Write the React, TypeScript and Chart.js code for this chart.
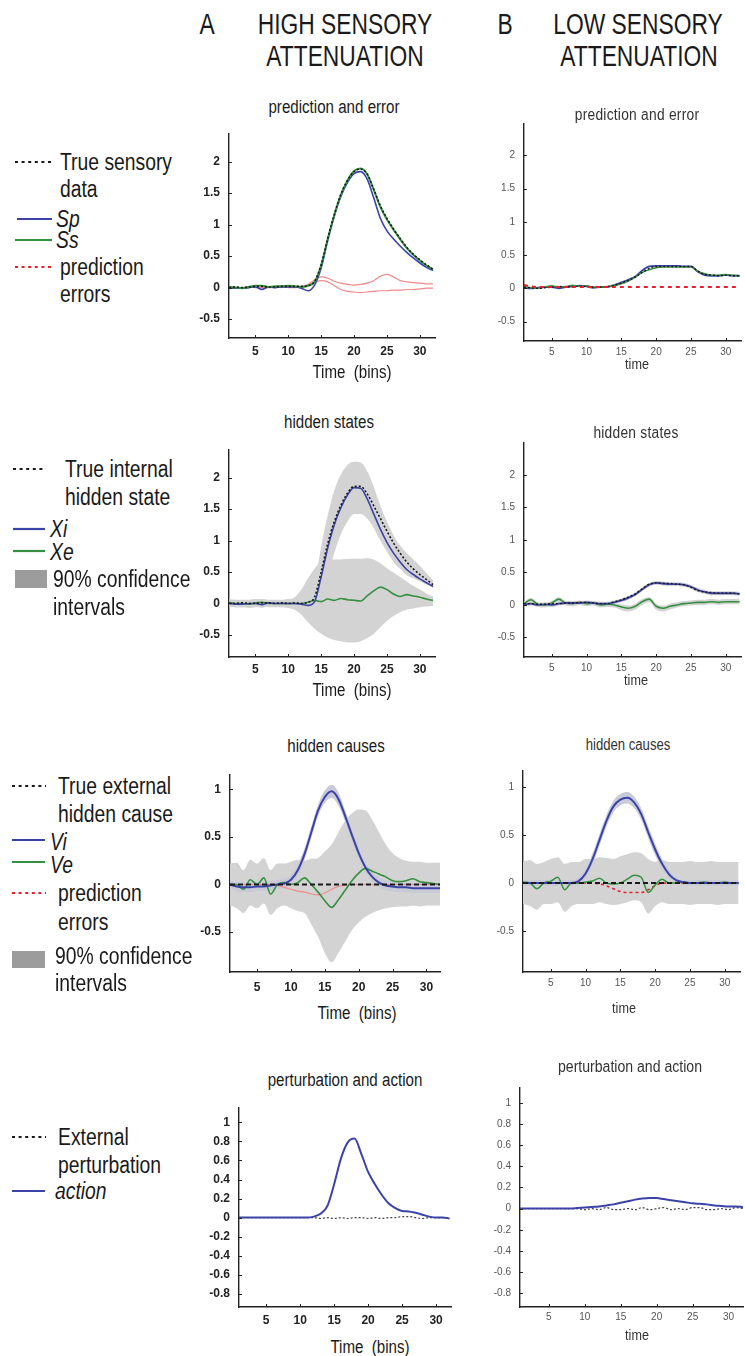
import React, { useEffect, useRef } from "react";
import { Chart, registerables } from "chart.js";
Chart.register(...registerables);

// ---------- categories / ticks ----------
const bins = [1,2,3,4,5,6,7,8,9,10,11,12,13,14,15,16,17,18,19,20,21,22,23,24,25,26,27,28,29,30,31,32];
const xTicks = [5, 10, 15, 20, 25, 30];
const yTicksPred = [-0.5, 0, 0.5, 1, 1.5, 2];
const yTicksCause = [-0.5, 0, 0.5, 1];
const yTicksAction = [-0.8, -0.6, -0.4, -0.2, 0, 0.2, 0.4, 0.6, 0.8, 1];

// ---------- A1 prediction and error (high attenuation) ----------
const trueSensA = [0.00,0.01,0.00,0.01,0.02,0.02,0.01,0.01,0.02,0.02,0.02,0.02,0.03,0.10,0.36,0.78,1.16,1.48,1.70,1.84,1.88,1.80,1.56,1.30,1.10,0.93,0.78,0.64,0.53,0.44,0.36,0.29];
const ssA = [0.01,0.00,-0.01,0.01,0.03,0.03,0.01,0.02,0.02,0.03,0.02,0.01,0.03,0.09,0.35,0.77,1.15,1.47,1.70,1.85,1.89,1.80,1.55,1.28,1.08,0.92,0.77,0.63,0.52,0.43,0.35,0.29];
const spA = [0.00,-0.01,-0.01,0.00,0.01,-0.03,0.01,0.00,0.01,0.01,0.01,-0.01,-0.05,0.04,0.31,0.75,1.14,1.45,1.67,1.81,1.84,1.72,1.42,1.10,0.90,0.77,0.66,0.56,0.47,0.39,0.32,0.27];
const errA1 = [0.00,0.00,0.00,0.01,0.00,0.00,0.00,0.01,0.00,0.01,0.01,0.02,0.05,0.12,0.17,0.15,0.10,0.07,0.05,0.04,0.05,0.07,0.11,0.18,0.21,0.17,0.11,0.09,0.08,0.07,0.06,0.06];
const errA2 = [0.00,-0.01,0.00,0.00,0.01,0.00,0.00,0.00,0.01,0.00,0.00,0.01,0.04,0.08,0.11,0.09,0.03,-0.03,-0.06,-0.07,-0.08,-0.07,-0.06,-0.05,-0.05,-0.04,-0.04,-0.03,-0.03,-0.02,-0.01,-0.01];

// ---------- B1 prediction and error (low attenuation) ----------
const trueSensB = [0.02,0.01,0.00,0.01,0.02,0.03,0.02,0.03,0.03,0.03,0.02,0.02,0.03,0.05,0.08,0.12,0.17,0.24,0.30,0.33,0.33,0.33,0.33,0.33,0.33,0.26,0.21,0.20,0.19,0.20,0.19,0.19];
const spB = [0.01,0.00,0.01,0.02,0.02,0.00,0.02,0.03,0.04,0.03,0.01,0.02,0.02,0.05,0.09,0.13,0.18,0.27,0.33,0.34,0.34,0.34,0.34,0.33,0.33,0.25,0.20,0.19,0.19,0.20,0.19,0.19];
const ssB = [0.03,0.01,0.00,0.02,0.04,0.02,0.03,0.05,0.03,0.04,0.02,0.02,0.03,0.04,0.07,0.11,0.17,0.24,0.28,0.31,0.32,0.32,0.32,0.32,0.32,0.26,0.22,0.20,0.20,0.21,0.20,0.19];
const errB1 = [0.05,0.03,0.02,0.02,0.02,0.02,0.02,0.02,0.02,0.02,0.02,0.02,0.02,0.02,0.02,0.02,0.02,0.02,0.02,0.02,0.02,0.02,0.02,0.02,0.02,0.02,0.02,0.02,0.02,0.02,0.02,0.02];

// ---------- A2 hidden states (high) ----------
const trueHidA = [0.00,0.00,0.01,0.00,0.00,0.01,0.01,0.00,0.01,0.00,0.01,0.00,0.02,0.10,0.50,0.95,1.30,1.56,1.75,1.86,1.86,1.74,1.55,1.35,1.15,0.96,0.80,0.66,0.55,0.46,0.38,0.30];
const xiA = [0.00,-0.01,-0.01,0.00,0.00,-0.02,0.01,0.00,0.00,0.00,0.00,-0.01,-0.03,0.03,0.42,0.88,1.25,1.52,1.72,1.84,1.83,1.66,1.42,1.18,0.97,0.80,0.66,0.54,0.46,0.39,0.33,0.27];
const xeA = [0.02,0.00,0.00,-0.01,0.01,0.02,0.00,0.00,0.00,0.00,0.00,0.00,0.02,0.05,0.03,0.07,0.05,0.08,0.06,0.05,0.04,0.12,0.20,0.26,0.22,0.15,0.11,0.14,0.12,0.10,0.07,0.05];
const xiHiA = [0.05,0.04,0.04,0.05,0.05,0.04,0.05,0.05,0.05,0.05,0.05,0.05,0.06,0.30,0.90,1.40,1.80,2.05,2.20,2.25,2.24,2.10,1.85,1.55,1.30,1.08,0.92,0.80,0.70,0.60,0.48,0.37];
const xiLoA = [-0.05,-0.06,-0.06,-0.05,-0.05,-0.07,-0.04,-0.05,-0.05,-0.05,-0.05,-0.06,-0.08,-0.02,0.15,0.45,0.80,1.10,1.30,1.42,1.42,1.35,1.20,1.00,0.82,0.66,0.55,0.45,0.40,0.35,0.30,0.25];
const xeHiA = [0.07,0.06,0.06,0.06,0.07,0.07,0.06,0.06,0.06,0.07,0.10,0.22,0.40,0.55,0.67,0.70,0.70,0.70,0.71,0.71,0.71,0.72,0.70,0.64,0.56,0.49,0.42,0.35,0.28,0.22,0.16,0.11];
const xeLoA = [-0.05,-0.06,-0.06,-0.07,-0.06,-0.05,-0.06,-0.06,-0.06,-0.07,-0.10,-0.18,-0.30,-0.40,-0.48,-0.54,-0.58,-0.60,-0.62,-0.62,-0.60,-0.55,-0.48,-0.38,-0.28,-0.20,-0.14,-0.10,-0.08,-0.06,-0.05,-0.04];

// ---------- B2 hidden states (low) ----------
const trueHidB = [0.02,0.02,0.01,0.01,0.02,0.02,0.03,0.03,0.04,0.04,0.03,0.02,0.02,0.05,0.08,0.12,0.17,0.25,0.32,0.34,0.33,0.33,0.32,0.31,0.27,0.22,0.20,0.19,0.18,0.18,0.18,0.17];
const xiB = [0.01,0.02,0.00,0.01,0.00,0.02,0.03,0.03,0.03,0.04,0.03,0.02,0.02,0.04,0.07,0.11,0.16,0.24,0.31,0.34,0.33,0.32,0.32,0.31,0.28,0.23,0.20,0.18,0.18,0.18,0.18,0.17];
const xeB = [0.02,0.08,0.01,0.00,0.03,0.09,0.03,0.02,0.04,0.02,0.03,0.00,0.01,0.00,-0.03,-0.05,-0.02,0.05,0.09,-0.02,-0.05,-0.02,0.00,0.02,0.03,0.04,0.04,0.05,0.04,0.05,0.05,0.05];
const xiHiB = [0.04,0.05,0.03,0.04,0.03,0.05,0.06,0.06,0.06,0.07,0.06,0.05,0.05,0.07,0.10,0.14,0.19,0.27,0.34,0.37,0.36,0.35,0.35,0.34,0.31,0.26,0.23,0.21,0.21,0.21,0.21,0.20];
const xiLoB = [-0.02,-0.01,-0.03,-0.02,-0.03,-0.01,0.00,0.00,0.00,0.01,0.00,-0.01,-0.01,0.01,0.04,0.08,0.13,0.21,0.28,0.31,0.30,0.29,0.29,0.28,0.25,0.20,0.17,0.15,0.15,0.15,0.15,0.14];
const xeHiB = [0.05,0.11,0.04,0.03,0.06,0.12,0.06,0.05,0.07,0.05,0.06,0.03,0.04,0.03,0.01,-0.01,0.02,0.09,0.12,0.02,-0.01,0.02,0.04,0.06,0.07,0.08,0.08,0.09,0.08,0.09,0.09,0.09];
const xeLoB = [-0.02,0.04,-0.03,-0.04,-0.01,0.05,-0.01,-0.02,0.00,-0.02,-0.01,-0.04,-0.03,-0.04,-0.08,-0.10,-0.07,0.00,0.04,-0.07,-0.10,-0.07,-0.04,-0.02,-0.01,0.00,0.00,0.01,0.00,0.01,0.01,0.01];

// ---------- A3 hidden causes (high) ----------
const trueCauseA = [0,0,0,0,0,0,0,0,0,0,0,0,0,0,0,0,0,0,0,0,0,0,0,0,0,0,0,0,0,0,0,0];
const viA = [0.00,-0.02,-0.03,-0.03,-0.02,-0.02,-0.01,0.00,0.01,0.05,0.15,0.32,0.55,0.78,0.92,0.98,0.90,0.72,0.52,0.33,0.18,0.08,0.02,-0.01,-0.02,-0.03,-0.03,-0.04,-0.04,-0.04,-0.04,-0.04];
const veA = [0.00,0.00,-0.05,0.05,0.00,0.07,-0.10,0.00,0.02,0.00,0.02,0.07,0.00,-0.08,-0.17,-0.24,-0.16,-0.06,0.04,0.12,0.17,0.14,0.11,0.08,0.04,0.03,0.04,0.06,0.03,0.02,0.01,0.00];
const errCauseA = [0.00,0.00,0.00,0.00,0.00,0.00,0.00,-0.01,-0.03,-0.05,-0.07,-0.08,-0.10,-0.11,-0.09,-0.05,-0.02,-0.01,0.00,0.00,0.00,0.00,0.00,0.00,0.00,0.00,0.00,0.00,0.00,0.00,0.00,0.00];
const viHiA = [0.04,0.03,0.02,0.02,0.03,0.03,0.04,0.05,0.06,0.10,0.21,0.38,0.61,0.84,0.99,1.05,0.97,0.78,0.58,0.39,0.23,0.13,0.07,0.04,0.03,0.02,0.02,0.01,0.01,0.01,0.01,0.01];
const viLoA = [-0.04,-0.07,-0.08,-0.08,-0.07,-0.07,-0.06,-0.05,-0.04,0.00,0.09,0.26,0.49,0.72,0.86,0.91,0.83,0.66,0.46,0.27,0.13,0.03,-0.03,-0.06,-0.07,-0.08,-0.08,-0.09,-0.09,-0.09,-0.09,-0.09];
const veHiA = [0.22,0.23,0.15,0.26,0.22,0.28,0.15,0.22,0.22,0.24,0.26,0.25,0.27,0.28,0.35,0.42,0.55,0.67,0.75,0.79,0.78,0.68,0.55,0.42,0.33,0.28,0.25,0.24,0.24,0.23,0.23,0.23];
const veLoA = [-0.22,-0.25,-0.30,-0.22,-0.25,-0.20,-0.32,-0.25,-0.22,-0.25,-0.28,-0.30,-0.42,-0.55,-0.72,-0.82,-0.72,-0.60,-0.48,-0.40,-0.34,-0.30,-0.27,-0.25,-0.24,-0.23,-0.23,-0.22,-0.23,-0.22,-0.22,-0.22];

// ---------- B3 hidden causes (low) ----------
const trueCauseB = [0,0,0,0,0,0,0,0,0,0,0,0,0,0,0,0,0,0,0,0,0,0,0,0,0,0,0,0,0,0,0,0];
const viB = [0.00,0.00,0.00,0.00,0.00,0.00,0.00,0.00,0.02,0.10,0.25,0.45,0.65,0.80,0.87,0.89,0.84,0.72,0.53,0.35,0.20,0.09,0.03,0.01,0.00,0.00,0.00,0.00,0.00,0.00,0.00,0.00];
const veB = [0.01,0.00,-0.06,0.00,0.02,0.06,-0.07,0.00,0.00,0.01,0.02,0.05,0.00,-0.01,0.00,0.04,0.08,0.06,-0.10,-0.02,0.04,0.00,0.00,0.01,0.00,0.00,0.01,0.00,0.00,0.01,0.00,0.00];
const errCauseB = [0,0,0,0,0,0,0,0,0,0,0,-0.01,-0.03,-0.06,-0.09,-0.10,-0.10,-0.10,-0.07,-0.03,0.00,0,0,0,0,0,0,0,0,0,0,0];
const viHiB = [0.03,0.03,0.03,0.03,0.03,0.03,0.03,0.03,0.06,0.15,0.31,0.51,0.71,0.86,0.93,0.95,0.90,0.78,0.59,0.41,0.25,0.13,0.06,0.03,0.03,0.03,0.03,0.03,0.03,0.03,0.03,0.03];
const viLoB = [-0.03,-0.03,-0.03,-0.03,-0.03,-0.03,-0.03,-0.03,-0.02,0.05,0.19,0.39,0.59,0.74,0.81,0.83,0.78,0.66,0.47,0.29,0.15,0.05,0.00,-0.02,-0.03,-0.03,-0.03,-0.03,-0.03,-0.03,-0.03,-0.03];
const veHiB = [0.22,0.24,0.20,0.22,0.25,0.27,0.20,0.22,0.22,0.25,0.25,0.27,0.26,0.25,0.28,0.30,0.32,0.31,0.25,0.22,0.24,0.22,0.22,0.22,0.23,0.22,0.22,0.23,0.22,0.22,0.22,0.22];
const veLoB = [-0.22,-0.24,-0.28,-0.22,-0.22,-0.20,-0.30,-0.24,-0.22,-0.22,-0.22,-0.20,-0.22,-0.23,-0.22,-0.20,-0.18,-0.20,-0.32,-0.24,-0.20,-0.22,-0.22,-0.22,-0.23,-0.22,-0.22,-0.22,-0.23,-0.22,-0.22,-0.22];

// ---------- A4 / B4 perturbation and action ----------
const actionA = [0.00,0.00,0.00,0.00,0.00,0.00,0.00,0.00,0.00,0.00,0.00,0.01,0.04,0.12,0.35,0.62,0.79,0.83,0.67,0.48,0.35,0.24,0.15,0.10,0.07,0.065,0.05,0.03,0.01,0.00,0.00,-0.01];
const pertA = [0.00,0.00,0.00,0.00,0.00,0.00,0.00,0.00,0.00,0.00,0.00,0.00,-0.01,0.00,-0.01,0.00,-0.01,0.00,0.00,-0.01,0.00,-0.01,0.00,0.00,0.01,0.01,0.00,-0.01,0.00,0.00,0.00,0.00];
const actionB = [0.00,0.00,0.00,0.00,0.00,0.00,0.00,0.00,0.005,0.01,0.015,0.02,0.03,0.04,0.055,0.07,0.085,0.095,0.10,0.10,0.09,0.08,0.07,0.06,0.05,0.045,0.04,0.03,0.025,0.02,0.02,0.015];
const pertB = [0,0,0,0,0,0,0,0,0,-0.01,0.00,-0.01,0.01,-0.01,-0.01,0.00,-0.01,0.01,-0.01,0.00,0.01,-0.01,0.00,-0.01,0.01,0.01,-0.01,-0.01,0.00,-0.01,0.01,0.00];

// ---------- styles ----------
const NARROW = "'Liberation Sans Narrow', 'Arial Narrow', 'Liberation Sans', Arial, sans-serif";
const BLUE = "#3b43a6";
const GREEN = "#35903f";
const BLACK = "#1a1a1a";
const PINK = "#f18a8a";
const RED = "#e3222b";
const GRAY = "#d3d3d3";
const GRAYBLUE = "#c8cad8";
const LEGGRAY = "#9c9c9c";

const pts = (arr: number[]) => arr.map((y, i) => ({ x: bins[i], y }));
const line = (arr: number[], color: string, width: number, dash: number[] = [], order = 1) => ({
  data: pts(arr), borderColor: color, borderWidth: width, borderDash: dash, pointRadius: 0,
  fill: false, cubicInterpolationMode: "monotone", order,
});
const band = (hi: number[], lo: number[], color: string, order = 20) => [
  { data: pts(hi), borderWidth: 0, borderColor: "rgba(0,0,0,0)", pointRadius: 0, fill: "+1", backgroundColor: color, cubicInterpolationMode: "monotone", order },
  { data: pts(lo), borderWidth: 0, borderColor: "rgba(0,0,0,0)", pointRadius: 0, fill: false, cubicInterpolationMode: "monotone", order: order + 1 },
];

const innerTicks = {
  id: "innerTicks",
  afterDraw(chart: any) {
    const { ctx, chartArea, scales } = chart;
    ctx.save();
    ctx.strokeStyle = "#222";
    ctx.lineWidth = 1;
    scales.x.ticks.forEach((t: any) => {
      const px = Math.round(scales.x.getPixelForValue(t.value)) + 0.5;
      ctx.beginPath(); ctx.moveTo(px, chartArea.bottom); ctx.lineTo(px, chartArea.bottom - 3); ctx.stroke();
    });
    scales.y.ticks.forEach((t: any) => {
      const py = Math.round(scales.y.getPixelForValue(t.value)) + 0.5;
      ctx.beginPath(); ctx.moveTo(chartArea.left, py); ctx.lineTo(chartArea.left + 3, py); ctx.stroke();
    });
    ctx.restore();
  },
};

type Geo = { l: number; t: number; r: number; b: number };
const YW = 46, XH = 30, PT = 4, PR = 2;

function Panel(props: {
  g: Geo; datasets: any[]; yTicks: number[]; yMin: number; yMax: number; xMax: number;
  strong: boolean; xPad: number; yPad: number;
}) {
  const ref = useRef<HTMLCanvasElement>(null);
  const { g, datasets, yTicks, yMin, yMax, xMax, strong, xPad, yPad } = props;
  const W = g.r - g.l + YW + PR;
  const H = g.b - g.t + PT + XH;
  useEffect(() => {
    const font = strong
      ? { family: NARROW, size: 12, weight: "bold" as const }
      : { family: NARROW, size: 10, weight: "normal" as const };
    const color = strong ? "#222" : "#555";
    const chart = new Chart(ref.current as HTMLCanvasElement, {
      type: "line",
      data: { datasets },
      options: {
        animation: false, responsive: false, events: [],
        layout: { padding: { top: PT, right: PR, left: 0, bottom: 0 } },
        plugins: { legend: { display: false }, tooltip: { enabled: false }, title: { display: false } },
        scales: {
          x: {
            type: "linear", min: 1, max: xMax,
            afterFit: (s: any) => { s.height = XH; },
            afterBuildTicks: (s: any) => { s.ticks = xTicks.map((v) => ({ value: v })); },
            grid: { display: false, drawTicks: false },
            border: { display: true, color: "#222", width: 1.4 },
            ticks: { font, color, padding: xPad, maxRotation: 0, autoSkip: false, callback: (v: any) => String(v) },
          },
          y: {
            type: "linear", min: yMin, max: yMax,
            afterFit: (s: any) => { s.width = YW; },
            afterBuildTicks: (s: any) => { s.ticks = yTicks.map((v) => ({ value: v })); },
            grid: { display: false, drawTicks: false },
            border: { display: true, color: "#222", width: 1.4 },
            ticks: { font, color, padding: yPad, autoSkip: false, callback: (v: any) => String(v) },
          },
        },
      } as any,
      plugins: [innerTicks],
    });
    return () => chart.destroy();
  }, []);
  return (
    <canvas ref={ref} width={W} height={H}
      style={{ position: "absolute", left: g.l - YW, top: g.t - PT, width: W, height: H }} />
  );
}

function T(props: { x: number; y: number; size: number; children: any; center?: boolean; italic?: boolean; color?: string; sx?: number; weight?: string; ls?: number }) {
  const { x, y, size, children, center, italic, color, sx, weight, ls } = props;
  return (
    <div style={{
      position: "absolute", left: x, top: y, fontFamily: NARROW, fontSize: size, lineHeight: 1,
      whiteSpace: "pre", color: color || "#1a1a1a", fontStyle: italic ? "italic" : "normal",
      fontWeight: (weight as any) || "normal", letterSpacing: ls || 0,
      transform: `translate(${center ? "-50%" : "0"}, -50%) scaleX(${sx || 0.84})`,
      transformOrigin: center ? "center center" : "left center",
    }}>{children}</div>
  );
}

function Sym(props: { x1: number; x2: number; y: number; kind: "dots" | "line" | "box"; color: string; h?: number }) {
  const { x1, x2, y, kind, color, h } = props;
  if (kind === "box") {
    return <div style={{ position: "absolute", left: x1, top: y - (h || 18) / 2, width: x2 - x1, height: h || 18, background: color }} />;
  }
  return (
    <svg style={{ position: "absolute", left: x1, top: y - 3, overflow: "visible" }} width={x2 - x1} height={6}>
      <line x1={0} y1={3} x2={x2 - x1} y2={3} stroke={color} strokeWidth={2.2}
        strokeDasharray={kind === "dots" ? "3 3.6" : undefined} />
    </svg>
  );
}

export default function App() {
  useEffect(() => {
    document.body.style.margin = "0";
    document.body.style.overflow = "hidden";
    document.body.style.background = "#fff";
  }, []);

  const A1 = [
    line(trueSensA, BLACK, 1.6, [2, 2], 1),
    line(spA, BLUE, 1.6, [], 3),
    line(ssA, GREEN, 2, [], 2),
    line(errA1, PINK, 1.2, [], 4),
    line(errA2, PINK, 1.2, [], 4),
  ];
  const B1 = [
    line(trueSensB, BLACK, 1.4, [2, 2], 1),
    line(spB, BLUE, 1.8, [], 3),
    line(ssB, GREEN, 1.4, [], 2),
    line(errB1, RED, 2, [4, 4], 0),
  ];
  const A2 = [
    line(trueHidA, BLACK, 1.6, [2, 2], 1),
    line(xiA, BLUE, 1.6, [], 2),
    line(xeA, GREEN, 1.6, [], 3),
    ...band(xiHiA, xiLoA, GRAY, 20),
    ...band(xeHiA, xeLoA, GRAY, 30),
  ];
  const B2 = [
    line(trueHidB, BLACK, 1.4, [2, 2], 1),
    line(xiB, BLUE, 1.8, [], 2),
    line(xeB, GREEN, 1.6, [], 3),
    ...band(xiHiB, xiLoB, GRAY, 20),
    ...band(xeHiB, xeLoB, GRAY, 30),
  ];
  const A3 = [
    line(trueCauseA, BLACK, 1.8, [5, 3], 1),
    line(viA, BLUE, 2, [], 2),
    line(veA, GREEN, 1.6, [], 3),
    line(errCauseA, PINK, 1.2, [], 4),
    ...band(viHiA, viLoA, GRAYBLUE, 20),
    ...band(veHiA, veLoA, GRAY, 30),
  ];
  const B3 = [
    line(trueCauseB, BLACK, 1.8, [5, 3], 1),
    line(viB, BLUE, 2, [], 2),
    line(veB, GREEN, 1.5, [], 3),
    line(errCauseB, RED, 1.6, [3, 3], 4),
    ...band(viHiB, viLoB, GRAYBLUE, 20),
    ...band(veHiB, veLoB, GRAY, 30),
  ];
  const A4 = [
    line(pertA, "#444", 1.2, [2, 2], 2),
    line(actionA, BLUE, 2, [], 1),
  ];
  const B4 = [
    line(pertB, "#444", 1.2, [2, 2], 2),
    line(actionB, BLUE, 2, [], 1),
  ];

  const L = 23;
  const HS = 0.76;
  return (
    <div style={{ position: "absolute", left: 0, top: 0, width: 745, height: 1356, background: "#fff", overflow: "hidden" }}>
      {/* header */}
      <T x={207} y={24} size={30} center sx={HS}>A</T>
      <T x={345} y={24} size={30} center sx={HS}>HIGH SENSORY</T>
      <T x={345} y={56} size={30} center sx={HS}>ATTENUATION</T>
      <T x={505} y={24} size={30} center sx={HS}>B</T>
      <T x={638} y={24} size={30} center sx={HS}>LOW SENSORY</T>
      <T x={639} y={56} size={30} center sx={HS}>ATTENUATION</T>

      {/* panels */}
      <Panel g={{ l: 229, t: 121, r: 435, b: 338 }} datasets={A1} yTicks={yTicksPred} yMin={-0.8} yMax={2.45} xMax={32.3} strong xPad={6} yPad={9} />
      <Panel g={{ l: 524, t: 113, r: 741, b: 341 }} datasets={B1} yTicks={yTicksPred} yMin={-0.79} yMax={2.47} xMax={32.2} strong={false} xPad={5} yPad={9} />
      <Panel g={{ l: 229, t: 437, r: 435, b: 657 }} datasets={A2} yTicks={yTicksPred} yMin={-0.85} yMax={2.45} xMax={32.3} strong xPad={5} yPad={9} />
      <Panel g={{ l: 524, t: 432, r: 741, b: 657 }} datasets={B2} yTicks={yTicksPred} yMin={-0.8} yMax={2.49} xMax={32.2} strong={false} xPad={5} yPad={9} />
      <Panel g={{ l: 230, t: 762, r: 440, b: 972 }} datasets={A3} yTicks={yTicksCause} yMin={-0.92} yMax={1.16} xMax={32} strong xPad={8} yPad={9} />
      <Panel g={{ l: 523, t: 760, r: 740, b: 972 }} datasets={B3} yTicks={yTicksCause} yMin={-0.93} yMax={1.17} xMax={32.2} strong={false} xPad={5} yPad={9} />
      <Panel g={{ l: 239, t: 1095, r: 451, b: 1307 }} datasets={A4} yTicks={yTicksAction} yMin={-0.94} yMax={1.16} xMax={32.2} strong xPad={6} yPad={9} />
      <Panel g={{ l: 520, t: 1077, r: 743, b: 1307 }} datasets={B4} yTicks={yTicksAction} yMin={-0.93} yMax={1.14} xMax={32} strong={false} xPad={4} yPad={9} />

      {/* panel titles */}
      <T x={334} y={107} size={18} center>prediction and error</T>
      <T x={637} y={115} size={16} center color="#333" sx={0.86} ls={0.3}>prediction and error</T>
      <T x={329} y={422} size={18} center>hidden states</T>
      <T x={636} y={433} size={16} center color="#333" sx={0.86} ls={0.3}>hidden states</T>
      <T x={336} y={746} size={18} center>hidden causes</T>
      <T x={628} y={745} size={16} center color="#333" sx={0.82}>hidden causes</T>
      <T x={345} y={1080} size={18} center>perturbation and action</T>
      <T x={630} y={1067} size={16} center color="#333" sx={0.88}>perturbation and action</T>

      {/* x axis labels */}
      <T x={352} y={372} size={18} center>{"Time  (bins)"}</T>
      <T x={637} y={364} size={14} center color="#333" sx={0.9}>time</T>
      <T x={352} y={690} size={18} center>{"Time  (bins)"}</T>
      <T x={636} y={680} size={14} center color="#333" sx={0.9}>time</T>
      <T x={357} y={1013} size={18} center>{"Time  (bins)"}</T>
      <T x={624} y={1008} size={14} center color="#333" sx={0.9}>time</T>
      <T x={370} y={1347} size={18} center>{"Time  (bins)"}</T>
      <T x={637} y={1335} size={14} center color="#333" sx={0.9}>time</T>

      {/* legend 1 */}
      <Sym x1={15} x2={52} y={162} kind="dots" color={BLACK} />
      <T x={60} y={162} size={L}>True sensory</T>
      <T x={60} y={189} size={L}>data</T>
      <Sym x1={17} x2={52} y={219} kind="line" color={BLUE} />
      <T x={56} y={219} size={L} italic>Sp</T>
      <Sym x1={15} x2={52} y={240} kind="line" color={GREEN} />
      <T x={56} y={240} size={L} italic>Ss</T>
      <Sym x1={15} x2={52} y={267} kind="dots" color={RED} />
      <T x={60} y={267} size={L}>prediction</T>
      <T x={60} y={294} size={L}>errors</T>

      {/* legend 2 */}
      <Sym x1={13} x2={46} y={469} kind="dots" color={BLACK} />
      <T x={65} y={469} size={L}>True internal</T>
      <T x={65} y={497} size={L}>hidden state</T>
      <Sym x1={13} x2={45} y={529} kind="line" color={BLUE} />
      <T x={50} y={529} size={L} italic>Xi</T>
      <Sym x1={13} x2={45} y={551} kind="line" color={GREEN} />
      <T x={50} y={552} size={L} italic>Xe</T>
      <Sym x1={15} x2={47} y={579} kind="box" color={LEGGRAY} h={18} />
      <T x={53} y={579} size={L}>90% confidence</T>
      <T x={53} y={607} size={L}>intervals</T>

      {/* legend 3 */}
      <Sym x1={12} x2={46} y={786} kind="dots" color={BLACK} />
      <T x={58} y={786} size={L}>True external</T>
      <T x={58} y={814} size={L}>hidden cause</T>
      <Sym x1={12} x2={45} y={840} kind="line" color={BLUE} />
      <T x={50} y={842} size={L} italic>Vi</T>
      <Sym x1={12} x2={45} y={862} kind="line" color={GREEN} />
      <T x={50} y={865} size={L} italic>Ve</T>
      <Sym x1={12} x2={46} y={893} kind="dots" color={RED} />
      <T x={58} y={893} size={L}>prediction</T>
      <T x={58} y={922} size={L}>errors</T>
      <Sym x1={12} x2={45} y={959} kind="box" color={LEGGRAY} h={17} />
      <T x={55} y={956} size={L}>90% confidence</T>
      <T x={55} y={983} size={L}>intervals</T>

      {/* legend 4 */}
      <Sym x1={12} x2={46} y={1137} kind="dots" color={BLACK} />
      <T x={58} y={1137} size={L}>External</T>
      <T x={58} y={1165} size={L}>perturbation</T>
      <Sym x1={12} x2={45} y={1191} kind="line" color={BLUE} />
      <T x={55} y={1191} size={L} italic>action</T>
    </div>
  );
}
